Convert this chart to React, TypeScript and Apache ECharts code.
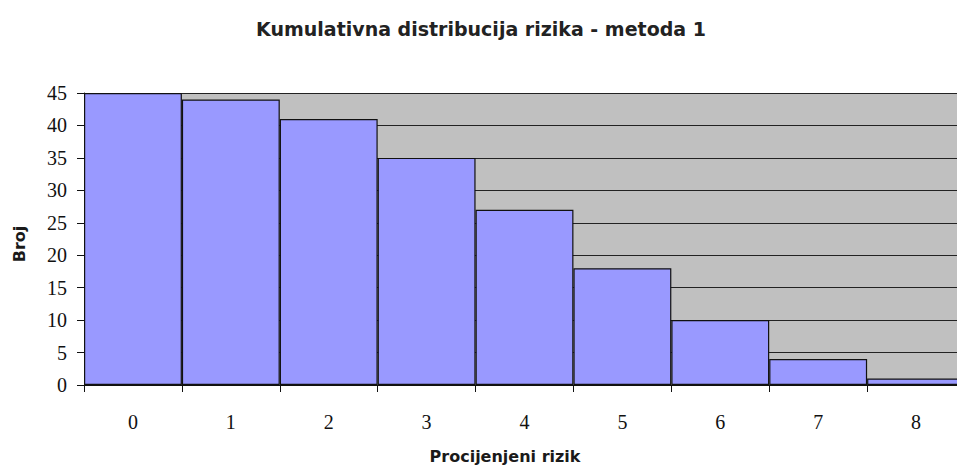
import React, { useEffect, useRef } from "react";
import * as echarts from "echarts";

const categories = ["0", "1", "2", "3", "4", "5", "6", "7", "8"];
const counts = [45, 44, 41, 35, 27, 18, 10, 4, 1];
const titleText = "Kumulativna distribucija rizika - metoda 1";
const xTitle = "Procijenjeni rizik";
const yTitle = "Broj";

export default function App() {
  const ref = useRef<HTMLDivElement>(null);
  useEffect(() => {
    if (!ref.current) return;
    const chart = echarts.init(ref.current, null, { renderer: "svg" });
    chart.setOption({
      animation: false,
      backgroundColor: "#ffffff",
      title: {
        text: titleText,
        left: 476,
        textAlign: "center",
        top: 14,
        textStyle: {
          fontFamily: "DejaVu Sans, sans-serif",
          fontSize: 19,
          fontWeight: 600,
          color: "#222",
        },
      },
      grid: {
        left: 84,
        right: 0,
        top: 93,
        bottom: 81,
        show: true,
        backgroundColor: "#c0c0c0",
        borderWidth: 0,
      },
      xAxis: {
        type: "category",
        data: categories,
        axisLine: { lineStyle: { color: "#111", width: 1 } },
        axisTick: { show: true, length: 7, lineStyle: { color: "#111" } },
        axisLabel: {
          margin: 27,
          fontFamily: "Liberation Serif, DejaVu Serif, serif",
          fontSize: 20,
          color: "#111",
        },
        splitLine: { show: false },
      },
      yAxis: {
        type: "value",
        min: 0,
        max: 45,
        interval: 5,
        axisLine: { show: true, lineStyle: { color: "#111", width: 1 } },
        axisTick: { show: true, length: 7, lineStyle: { color: "#111" } },
        axisLabel: {
          margin: 17,
          fontFamily: "Liberation Serif, DejaVu Serif, serif",
          fontSize: 20,
          color: "#111",
        },
        splitLine: { show: true, lineStyle: { color: "#222", width: 1 } },
      },
      series: [
        {
          type: "bar",
          data: counts,
          barWidth: "100%",
          barCategoryGap: 0,
          itemStyle: { color: "#9999ff", borderColor: "#111", borderWidth: 1.2 },
        },
      ],
      graphic: [
        {
          type: "text",
          x: 505,
          y: 456,
          style: {
            text: xTitle,
            fontFamily: "DejaVu Sans, sans-serif",
            fontSize: 16,
            fontWeight: "bold",
            fill: "#1a1a1a",
            align: "center",
            verticalAlign: "middle",
          },
        },
        {
          type: "text",
          x: 19,
          y: 244,
          rotation: Math.PI / 2,
          style: {
            text: yTitle,
            fontFamily: "DejaVu Sans, sans-serif",
            fontSize: 16,
            fontWeight: "bold",
            fill: "#1a1a1a",
            align: "center",
            verticalAlign: "middle",
          },
        },
      ],
    });
    return () => chart.dispose();
  }, []);
  return (
    <div style={{ position: "absolute", left: 0, top: 0, width: 957, height: 466, overflow: "hidden" }}>
      <div ref={ref} style={{ width: 965, height: 466 }} />
    </div>
  );
}
